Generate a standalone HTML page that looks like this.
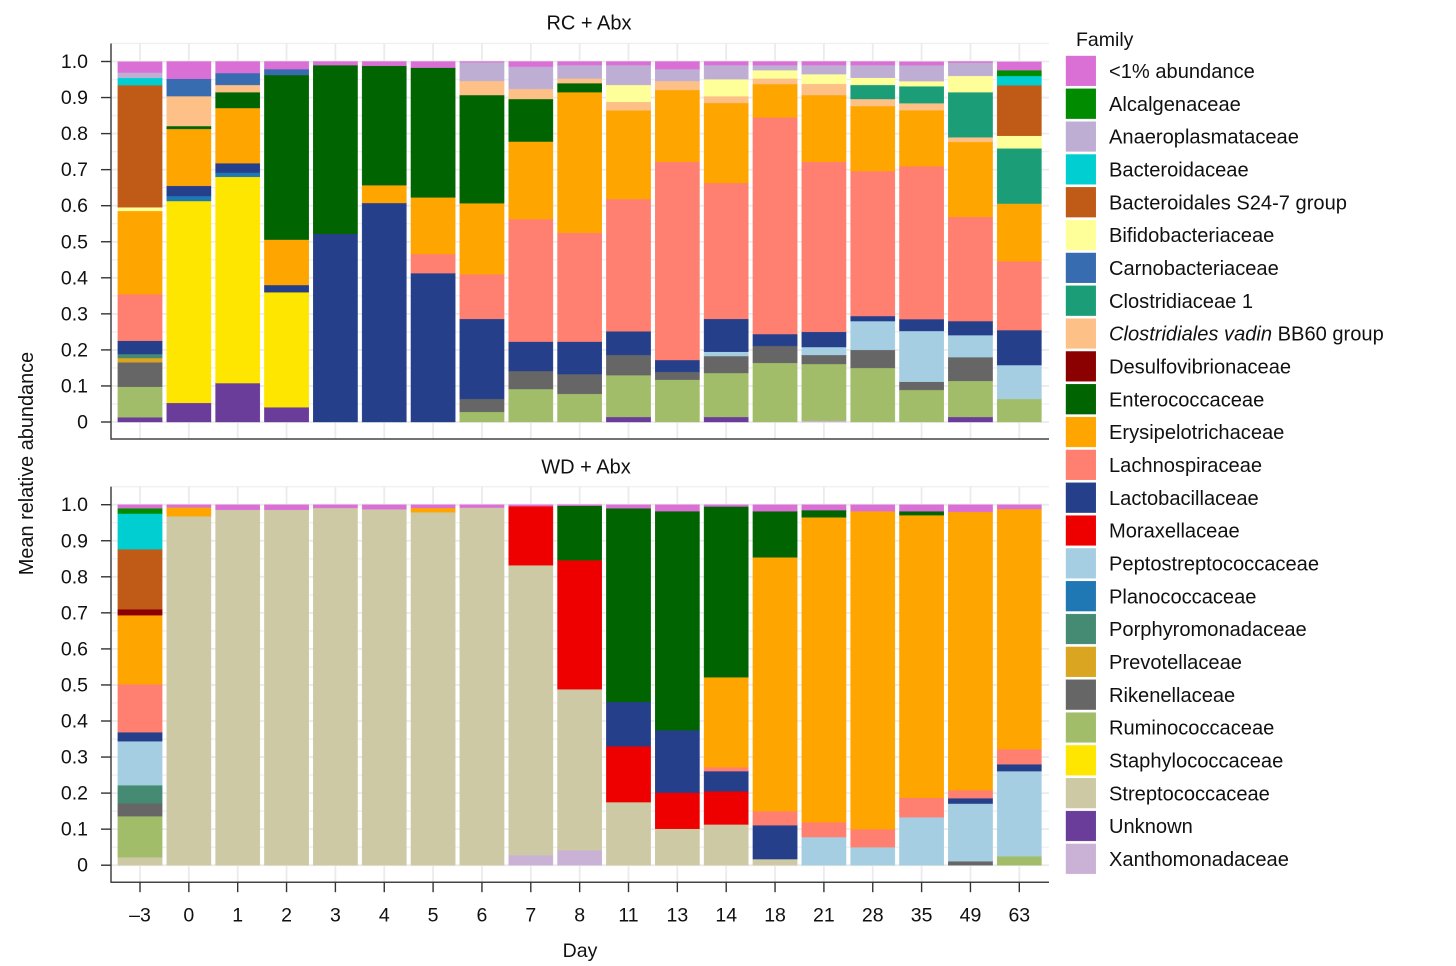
<!DOCTYPE html>
<html lang="en">
<head>
<meta charset="utf-8">
<title>Mean relative abundance by family</title>
<style>
html,body{margin:0;padding:0;background:#fff;}
svg{display:block;}
text{font-family:"Liberation Sans",Arial,sans-serif;fill:#111;}
</style>
</head>
<body>
<svg id="chart" xmlns="http://www.w3.org/2000/svg" width="1456" height="966" viewBox="0 0 1456 966"></svg>
<script>
const days = ["–3","0","1","2","3","4","5","6","7","8","11","13","14","18","21","28","35","49","63"];
const yTicks = [0,0.1,0.2,0.3,0.4,0.5,0.6,0.7,0.8,0.9,1.0];
const yTickLabels = ["0","0.1","0.2","0.3","0.4","0.5","0.6","0.7","0.8","0.9","1.0"];
const yMinorTicks = [0.05,0.15,0.25,0.35,0.45,0.55,0.65,0.75,0.85,0.95,1.05];
const families = ["<1% abundance","Alcalgenaceae","Anaeroplasmataceae","Bacteroidaceae","Bacteroidales S24-7 group","Bifidobacteriaceae","Carnobacteriaceae","Clostridiaceae 1","Clostridiales vadin BB60 group","Desulfovibrionaceae","Enterococcaceae","Erysipelotrichaceae","Lachnospiraceae","Lactobacillaceae","Moraxellaceae","Peptostreptococcaceae","Planococcaceae","Porphyromonadaceae","Prevotellaceae","Rikenellaceae","Ruminococcaceae","Staphylococcaceae","Streptococcaceae","Unknown","Xanthomonadaceae"];
const familyColors = ["#DA70D6","#008B00","#BEAED4","#00CED1","#BF5B17","#FFFF99","#386CB0","#1B9E77","#FDC086","#8B0000","#006400","#FFA500","#FF7F70","#253F8B","#EE0000","#A6CEE3","#1F78B4","#458B74","#DAA520","#666666","#A1BD6A","#FFE600","#CDC9A5","#6A3D9A","#CAB2D6"];

/* RC + Abx, one array per family, one value per day */
const rcLt1      = [.030,.048,.032,.021,.010,.012,.017,.002,.014,.010,.010,.021,.010,.010,.010,.010,.010,.003,.023];
const rcAlcal    = [0,0,0,0,0,0,0,0,0,0,0,0,0,0,0,0,0,0,.016];
const rcAnaero   = [.015,0,0,0,0,0,0,.052,.062,.037,.055,.033,.039,.014,.025,.035,.044,.037,0];
const rcBacteroid= [.020,0,0,0,0,0,0,0,0,0,0,0,0,0,0,0,0,0,.026];
const rcS24      = [.339,0,0,0,0,0,0,0,0,0,0,0,0,0,0,0,0,0,.140];
const rcBifido   = [.010,0,0,0,0,0,0,0,0,0,.047,0,.047,.023,.027,.020,.014,.045,.035];
const rcCarno    = [0,.048,.033,.0165,0,0,0,0,0,0,0,0,0,0,0,0,0,0,0];
const rcClostr1  = [0,0,0,0,0,0,0,0,0,0,0,0,0,0,0,.039,.047,.125,.153];
const rcVadin    = [0,.083,.020,0,0,0,0,.039,.028,.013,.0235,.025,.019,.0155,.031,.0195,.0195,.013,0];
const rcDesulfo  = [0,0,0,0,0,0,0,0,0,0,0,0,0,0,0,0,0,0,0];
const rcEntero   = [0,.008,.044,.4565,.468,.331,.360,.300,.118,.025,0,0,0,0,0,0,0,0,0];
const rcErysip   = [.231,.158,.153,.126,0,.0495,.157,.197,.215,.390,.246,.199,.222,.0925,.185,.1805,.1555,.208,.160];
const rcLachno   = [.129,0,0,0,0,0,.053,.124,.340,.302,.367,.550,.377,.601,.472,.402,.424,.289,.191];
const rcLacto    = [.037,.028,.026,.020,.522,.6075,.413,.222,.0815,.090,.0655,.033,.091,.033,.042,.014,.033,.039,.097];
const rcMorax    = [0,0,0,0,0,0,0,0,0,0,0,0,0,0,0,0,0,0,0];
const rcPepto    = [0,0,0,0,0,0,0,0,0,0,0,0,.012,0,.022,.080,.141,.061,.094];
const rcPlano    = [0,.014,.012,0,0,0,0,0,0,0,0,0,0,0,0,0,0,0,0];
const rcPorphyro = [.011,0,0,0,0,0,0,0,0,0,0,0,0,0,0,0,0,0,0];
const rcPrevot   = [.012,0,0,0,0,0,0,0,0,0,0,0,0,0,0,0,0,0,0];
const rcRiken    = [.0675,0,0,0,0,0,0,.036,.050,.055,.056,.0215,.047,.047,.025,.050,.0225,.066,0];
const rcRumino   = [.085,0,0,0,0,0,0,.028,.0915,.078,.116,.1175,.122,.164,.158,.150,.089,.100,.064];
const rcStaph    = [0,.560,.572,.319,0,0,0,0,0,0,0,0,0,0,0,0,0,0,0];
const rcStrepto  = [0,0,0,0,0,0,0,0,0,0,0,0,0,0,0,0,0,0,0];
const rcUnknown  = [.013,.053,.108,.041,0,0,0,0,0,0,.014,0,.014,0,0,0,0,.014,0];
const rcXantho   = [0,0,0,0,0,0,0,0,0,0,0,0,0,0,.003,0,0,0,0];

/* WD + Abx, one array per family, one value per day */
const wdLt1      = [.010,.0075,.014,.014,.009,.0125,.009,.008,.004,.003,.010,.018,.005,.018,.015,.018,.018,.020,.012];
const wdAlcal    = [.0145,0,0,0,0,0,0,0,0,0,0,0,0,0,0,0,0,0,0];
const wdAnaero   = [0,0,0,0,0,0,0,0,0,0,0,0,0,0,0,0,0,0,0];
const wdBacteroid= [.099,0,0,0,0,0,0,0,0,0,0,0,0,0,0,0,0,0,0];
const wdS24      = [.1665,0,0,0,0,0,0,0,0,0,0,0,0,0,0,0,0,0,0];
const wdBifido   = [0,0,0,0,0,0,0,0,0,0,0,0,0,0,0,0,0,0,0];
const wdCarno    = [0,0,0,0,0,0,0,0,0,0,0,0,0,0,0,0,0,0,0];
const wdClostr1  = [0,0,0,0,0,0,0,0,0,0,0,0,0,0,0,0,0,0,0];
const wdVadin    = [0,0,0,0,0,0,0,0,0,0,0,0,0,0,0,0,0,0,0];
const wdDesulfo  = [.0165,0,0,0,0,0,0,0,0,0,0,0,0,0,0,0,0,0,0];
const wdEntero   = [0,0,0,0,0,0,0,0,0,.151,.537,.6075,.4735,.128,.020,0,.011,0,0];
const wdErysip   = [.1915,.0245,0,0,0,0,.012,0,0,0,0,0,.2495,.704,.846,.882,.784,.772,.666];
const wdLachno   = [.133,0,0,0,0,0,0,0,0,0,0,0,.011,.039,.041,.050,.054,.022,.042];
const wdLacto    = [.025,0,0,0,0,0,0,0,0,0,.123,.173,.056,.094,0,0,0,.015,.019];
const wdMorax    = [0,0,0,0,0,0,0,0,.164,.358,.155,.1006,.092,0,0,0,0,0,0];
const wdPepto    = [.122,0,0,0,0,0,0,0,0,0,0,0,0,0,.078,.050,.133,.160,.236];
const wdPlano    = [0,0,0,0,0,0,0,0,0,0,0,0,0,0,0,0,0,0,0];
const wdPorphyro = [.050,0,0,0,0,0,0,0,0,0,0,0,0,0,0,0,0,0,0];
const wdPrevot   = [0,0,0,0,0,0,0,0,0,0,0,0,0,0,0,0,0,0,0];
const wdRiken    = [.036,0,0,0,0,0,0,0,0,0,0,0,0,0,0,0,0,.011,0];
const wdRumino   = [.114,0,0,0,0,0,0,0,0,0,0,0,0,0,0,0,0,0,.025];
const wdStaph    = [0,0,0,0,0,0,0,0,0,0,0,0,0,0,0,0,0,0,0];
const wdStrepto  = [.022,.968,.986,.986,.991,.9875,.979,.992,.804,.4466,.175,.101,.113,.017,0,0,0,0,0];
const wdUnknown  = [0,0,0,0,0,0,0,0,0,0,0,0,0,0,0,0,0,0,0];
const wdXantho   = [0,0,0,0,0,0,0,0,.028,.0416,0,0,0,0,0,0,0,0,0];

const rcSeries = [rcLt1,rcAlcal,rcAnaero,rcBacteroid,rcS24,rcBifido,rcCarno,rcClostr1,rcVadin,rcDesulfo,rcEntero,rcErysip,rcLachno,rcLacto,rcMorax,rcPepto,rcPlano,rcPorphyro,rcPrevot,rcRiken,rcRumino,rcStaph,rcStrepto,rcUnknown,rcXantho];
const wdSeries = [wdLt1,wdAlcal,wdAnaero,wdBacteroid,wdS24,wdBifido,wdCarno,wdClostr1,wdVadin,wdDesulfo,wdEntero,wdErysip,wdLachno,wdLacto,wdMorax,wdPepto,wdPlano,wdPorphyro,wdPrevot,wdRiken,wdRumino,wdStaph,wdStrepto,wdUnknown,wdXantho];

const svg = document.getElementById('chart');
const NS = 'http://www.w3.org/2000/svg';
function make(tag, attrs, text) {
  const el = document.createElementNS(NS, tag);
  for (const k in attrs) el.setAttribute(k, attrs[k]);
  if (text !== undefined) el.textContent = text;
  svg.appendChild(el);
  return el;
}
const xLeft = 111, xRight = 1049, xFirst = 140, xStep = 48.85, barW = 44.3;
const pxPerUnit = 360.5;
function xScale(i) { return xFirst + i * xStep; }
function yScale(zeroY, v) { return zeroY - v * pxPerUnit; }

function drawPanel(series, zeroY, title, titleX, titleY, key, showXAxis) {
  const top = yScale(zeroY, 1.05), bottom = zeroY + 17;
  yMinorTicks.forEach(function (v) {
    const l = make('line', {x1:xLeft, x2:xRight, y1:yScale(zeroY, v), y2:yScale(zeroY, v), stroke:'#f0f0f0', 'stroke-width':1.4});
    
    
  });
  yTicks.forEach(function (v) {
    const l = make('line', {x1:xLeft, x2:xRight, y1:yScale(zeroY, v), y2:yScale(zeroY, v), stroke:'#ebebeb', 'stroke-width':1.8});
    
    
  });
  days.forEach(function (d, i) {
    const l = make('line', {x1:xScale(i), x2:xScale(i), y1:top, y2:bottom, stroke:'#ebebeb', 'stroke-width':1.8});
    
    
  });
  days.forEach(function (d, i) {
    let cum = 0;
    for (let f = series.length - 1; f >= 0; f--) {
      const v = series[f][i];
      if (!v) continue;
      const y1 = yScale(zeroY, cum), y2 = yScale(zeroY, cum + v);
      const r = make('rect', {x:xScale(i) - barW / 2, y:y2, width:barW, height:y1 - y2, fill:familyColors[f], stroke:familyColors[f], 'stroke-width':0.4});
      
      
      cum += v;
    }
  });
  const yAxis = make('line', {x1:xLeft, x2:xLeft, y1:top, y2:bottom + 0.7, stroke:'#444', 'stroke-width':1.5});
  
  
  const xAxis = make('line', {x1:xLeft, x2:xRight, y1:bottom, y2:bottom, stroke:'#444', 'stroke-width':1.5});
  
  
  yTicks.forEach(function (v, i) {
    const t = make('line', {x1:101, x2:xLeft, y1:yScale(zeroY, v), y2:yScale(zeroY, v), stroke:'#333', 'stroke-width':1.4});
    
    
    const lab = make('text', {x:88, y:yScale(zeroY, v) + 6.5, 'text-anchor':'end', 'font-size':19.5}, yTickLabels[i]);
    
    
  });
  const ttl = make('text', {x:titleX, y:titleY, 'text-anchor':'middle', 'font-size':20}, title);
  
  
  if (showXAxis) {
    days.forEach(function (d, i) {
      const t = make('line', {x1:xScale(i), x2:xScale(i), y1:bottom, y2:bottom + 10, stroke:'#333', 'stroke-width':1.4});
      
      
      const lab = make('text', {x:xScale(i), y:921.5, 'text-anchor':'middle', 'font-size':19.5}, d);
      
      
    });
  }
}
drawPanel(rcSeries, 422, 'RC + Abx', 589, 29.5, 'rc-abx', false);
drawPanel(wdSeries, 865.2, 'WD + Abx', 586, 473.5, 'wd-abx', true);

const xTitle = make('text', {x:580, y:957, 'text-anchor':'middle', 'font-size':19.5}, 'Day');


const yTitle = make('text', {x:33, y:463.5, 'text-anchor':'middle', 'font-size':19.9, transform:'rotate(-90 33 463.5)'}, 'Mean relative abundance');



const legTitle = make('text', {x:1076, y:46, 'font-size':19.5}, 'Family');


families.forEach(function (name, i) {
  const y = 56 + i * 32.83;
  const sw = make('rect', {x:1066, y:y, width:29.8, height:29.8, fill:familyColors[i], stroke:familyColors[i], 'stroke-width':0.4});
  
  
  const t = make('text', {x:1109, y:y + 22, 'font-size':20.1});
  
  
  if (name.indexOf('Clostridiales vadin') === 0) {
    const a = document.createElementNS(NS, 'tspan');
    a.setAttribute('font-style', 'italic');
    a.textContent = 'Clostridiales vadin';
    t.appendChild(a);
    t.appendChild(document.createTextNode(' BB60 group'));
  } else {
    t.textContent = name;
  }
});
</script>
</body>
</html>
